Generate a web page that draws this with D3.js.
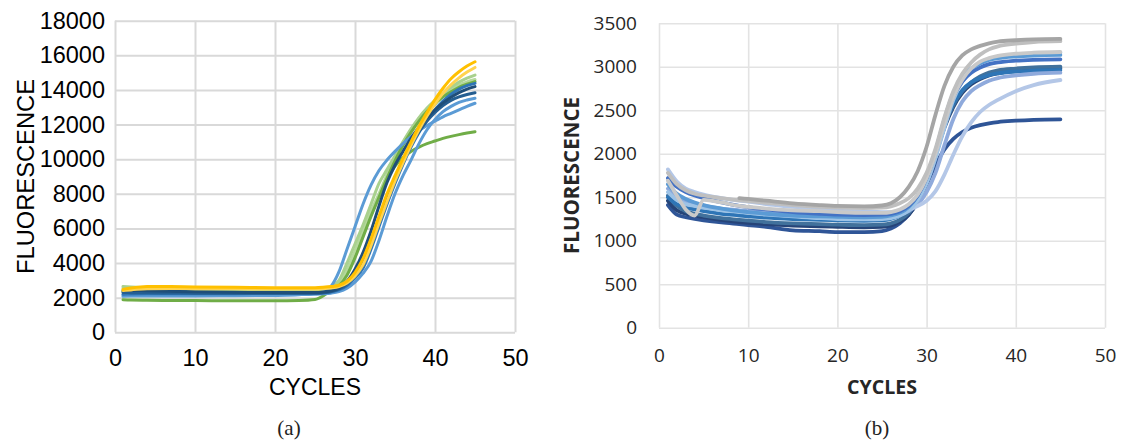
<!DOCTYPE html>
<html>
<head>
<meta charset="utf-8">
<script src="https://cdn.jsdelivr.net/npm/d3@7"></script>
<style>
  body { margin: 0; background: #fff; }
</style>
</head>
<body>
<svg id="chart" width="1128" height="441"></svg>
<script>
// ---- panel (a) data ----
const cyclesA = [1,2,4,7,10,15,20,23,25,26,27,28,29,30,31,32,33,34,35,36,37,38,39,40,41,42,43,44,45];
const a1 = [2480,2560,2650,2640,2620,2600,2580,2580,2580,2600,2640,2720,2950,3450,4250,5400,6700,8000,9050,10050,11000,11900,12700,13450,14100,14650,15050,15380,15630];
const a2 = [2420,2450,2520,2530,2520,2510,2500,2500,2500,2520,2560,2640,2850,3250,3900,5000,6300,7550,8750,9800,10800,11700,12500,13200,13800,14300,14700,15030,15300];
const a3 = [2650,2620,2560,2500,2470,2440,2420,2400,2400,2450,2600,3000,4000,5100,6200,7400,8600,9400,10200,11000,11750,12400,12950,13400,13800,14150,14450,14680,14860];
const a4 = [2550,2520,2460,2420,2400,2380,2360,2350,2350,2400,2520,2850,3600,4700,5900,7000,8000,9100,10100,10950,11700,12350,12900,13350,13750,14050,14300,14470,14600];
const a5 = [2350,2340,2320,2310,2300,2290,2290,2290,2300,2350,2450,2700,3300,4300,5500,6700,7800,8900,9900,10800,11550,12200,12750,13200,13600,13900,14150,14330,14480];
const a6 = [2200,2210,2220,2220,2220,2230,2240,2240,2250,2270,2330,2450,2700,3150,3700,4800,6100,7400,8600,9700,10700,11550,12250,12850,13350,13750,14050,14250,14380];
const a7 = [2420,2420,2400,2370,2340,2310,2300,2300,2300,2330,2400,2550,2950,3650,4600,5850,7300,8650,9650,10450,11200,11850,12400,12850,13250,13580,13850,14050,14190];
const a8 = [2300,2290,2280,2270,2260,2250,2250,2250,2250,2280,2350,2500,2800,3350,4000,5100,6400,7700,8900,9950,10850,11600,12200,12700,13100,13400,13600,13740,13840];
const a9 = [2150,2150,2150,2140,2140,2150,2170,2180,2200,2220,2260,2350,2550,2900,3400,4100,5300,6700,8000,9050,9950,10900,11700,12300,12750,13050,13280,13420,13520];
const a10 = [2080,2100,2100,2100,2100,2110,2130,2170,2250,2350,2650,3500,4800,6100,7400,8500,9350,9950,10450,10900,11300,11650,11950,12200,12450,12650,12850,13050,13230];
const a11 = [1880,1860,1850,1840,1830,1820,1820,1840,1900,2100,2450,2900,3600,4600,5700,6800,7900,8850,9600,10100,10450,10700,10900,11050,11200,11320,11420,11510,11590];
const seriesA = [a11, a4, a3, a5, a9, a10, a6, a8, a7, a2, a1];
const colorsA = ["#70ad47", "#b5d99c", "#a9d18e", "#70ad47", "#5b9bd5", "#5b9bd5", "#2e75b6", "#255e91", "#1f4e79", "#ffd34f", "#ffc000"];
const yTicksA = [0,2000,4000,6000,8000,10000,12000,14000,16000,18000];

// ---- panel (b) data ----
const cyclesB = [1,2,3,4,5,7,9,10,12,15,18,20,23,25,26,27,28,29,30,31,32,33,34,35,36,37,38,40,42,45];
const b1 = [null,null,null,null,null,null,1490,1480,1460,1430,1410,1400,1395,1405,1430,1500,1620,1800,2080,2450,2780,3000,3130,3200,3240,3270,3290,3305,3315,3320];
const b2 = [1780,1650,1580,1540,1520,1490,1465,1455,1435,1410,1390,1380,1375,1380,1395,1430,1490,1600,1780,2060,2420,2720,2920,3050,3140,3200,3235,3265,3285,3295];
const b3 = [1560,1470,1420,1400,1380,1350,1330,1320,1300,1280,1260,1250,1245,1250,1260,1290,1350,1470,1660,1950,2300,2620,2830,2960,3040,3090,3115,3140,3152,3162];
const b4 = [1650,1540,1480,1440,1410,1370,1340,1330,1310,1290,1280,1275,1270,1275,1290,1320,1390,1520,1730,2030,2400,2700,2880,2980,3040,3080,3100,3120,3130,3136];
const b5 = [1720,1620,1560,1520,1490,1440,1400,1385,1360,1330,1310,1300,1295,1300,1310,1340,1400,1520,1720,2020,2380,2660,2830,2930,2990,3030,3050,3070,3080,3086];
const b6 = [1520,1400,1340,1310,1290,1260,1240,1230,1215,1200,1190,1185,1180,1185,1200,1240,1320,1460,1680,1990,2320,2560,2720,2820,2890,2935,2960,2980,2993,3001];
const b7 = [1500,1420,1380,1360,1340,1310,1290,1280,1265,1250,1240,1235,1230,1235,1250,1290,1360,1490,1700,2000,2330,2580,2730,2820,2870,2905,2925,2945,2955,2963];
const b8 = [1600,1500,1450,1420,1400,1370,1350,1340,1320,1300,1285,1275,1270,1270,1280,1300,1340,1420,1560,1780,2100,2400,2600,2720,2790,2840,2870,2900,2920,2932];
const b9 = [1820,1680,1600,1560,1530,1490,1460,1450,1420,1390,1360,1345,1335,1330,1330,1340,1360,1400,1460,1570,1760,1990,2200,2360,2480,2560,2620,2720,2790,2848];
const b10 = [1410,1300,1270,1250,1235,1210,1190,1180,1160,1120,1110,1100,1100,1110,1140,1200,1300,1450,1650,1870,2050,2170,2250,2300,2330,2350,2365,2380,2390,2396];
const b11 = [1460,1350,1310,1290,1270,1240,1215,1205,1190,1175,1165,1160,1155,1160,1175,1220,1300,1450,1680,1980,2300,2540,2700,2800,2860,2900,2925,2955,2970,2985];
const b12 = [1690,1520,1360,1290,1470,1440,1400,1390,1370,1350,1340,1330,1320,1320,1330,1360,1420,1530,1720,2000,2350,2650,2850,2980,3060,3100,3125,3150,3162,3170];
const seriesB = [b10, b11, b6, b7, b8, b9, b3, b4, b5, b12, b2, b1];
const colorsB = ["#2f5597", "#264478", "#41719c", "#2e75b6", "#8faadc", "#b4c7e7", "#9dc3e6", "#5b9bd5", "#4472c4", "#c9c9c9", "#bfbfbf", "#a5a5a5"];
const yTicksB = [0,500,1000,1500,2000,2500,3000,3500];

const xTicks = [0,10,20,30,40,50];

const svg = d3.select("#chart");

function drawPanel(p) {
  var x = d3.scaleLinear().domain([0, 50]).range([p.left, p.right]);
  var y = d3.scaleLinear().domain([0, p.yMax]).range([p.bottom, p.top]);
  var w = p.right - p.left, h = p.bottom - p.top;

  // y gridlines + labels
  var gy = svg.append("g")
      .attr("transform", "translate(" + p.left + ",0)")
      .call(d3.axisLeft(y).tickValues(p.yTicks).tickSize(-w).tickPadding(p.yPad).tickFormat(d3.format("d")));
  // x gridlines + labels
  var gx = svg.append("g")
      .attr("transform", "translate(0," + p.bottom + ")")
      .call(d3.axisBottom(x).tickValues(xTicks).tickSize(-h).tickPadding(p.xPad));

  [gx, gy].forEach(function(g) {
    g.select(".domain").remove();
    g.selectAll("line").attr("stroke", p.grid).attr("stroke-width", p.gridWidth);
    g.selectAll("text")
      .attr("fill", p.textColor)
      .style("font-family", p.font)
      .style("font-size", p.tickSize + "px");
  });

  var line = d3.line()
      .defined(function(d) { return d[1] != null; })
      .x(function(d) { return x(d[0]); })
      .y(function(d) { return y(d[1]); })
      .curve(d3.curveMonotoneX);

  p.series.forEach(function(vals, i) {
    svg.append("path")
      .datum(p.cycles.map(function(c, j) { return [c, vals[j]]; }))
      .attr("fill", "none")
      .attr("stroke", p.colors[i])
      .attr("stroke-width", p.lineWidth)
      .attr("stroke-linejoin", "round")
      .attr("stroke-linecap", "round")
      .attr("d", line);
  });

  // axis titles
  var xt = svg.append("text")
      .attr("x", (p.left + p.right) / 2)
      .attr("y", p.xTitleY)
      .attr("text-anchor", "middle")
      .attr("fill", p.textColor)
      .style("font-family", p.font)
      .style("font-size", p.titleSize + "px")
      .style("font-weight", p.titleWeight)
      .text("CYCLES");
  var yt = svg.append("text")
      .attr("transform", "translate(" + p.yTitleX + "," + ((p.top + p.bottom) / 2) + ") rotate(-90)")
      .attr("text-anchor", "middle")
      .attr("fill", p.textColor)
      .style("font-family", p.font)
      .style("font-size", p.yTitleSize + "px")
      .style("font-weight", p.titleWeight)
      .text("FLUORESCENCE");
  if (p.xTitleLen) xt.attr("textLength", p.xTitleLen).attr("lengthAdjust", "spacingAndGlyphs");
  if (p.yTitleLen) yt.attr("textLength", p.yTitleLen).attr("lengthAdjust", "spacingAndGlyphs");

  // caption
  svg.append("text")
      .attr("x", p.capX)
      .attr("y", 435)
      .attr("text-anchor", "middle")
      .attr("fill", "#222")
      .style("font-family", "'Liberation Serif', 'DejaVu Serif', serif")
      .style("font-size", "21px")
      .text(p.caption);
}

drawPanel({
  left: 115, right: 515, top: 20.7, bottom: 332.3, yMax: 18000,
  yTicks: yTicksA, cycles: cyclesA, series: seriesA, colors: colorsA,
  grid: "#d9d9d9", gridWidth: 2, lineWidth: 3,
  font: "'Liberation Sans', Arial, sans-serif", textColor: "#000",
  tickSize: 23.5, yPad: 10, xPad: 17,
  titleSize: 23, yTitleSize: 23, titleWeight: "normal",
  xTitleY: 395, yTitleX: 34, yTitleLen: 195,
  caption: "(a)", capX: 289
});

drawPanel({
  left: 659, right: 1105, top: 23.3, bottom: 327.7, yMax: 3500,
  yTicks: yTicksB, cycles: cyclesB, series: seriesB, colors: colorsB,
  grid: "#e3e3e3", gridWidth: 1.6, lineWidth: 3.8,
  font: "'Open Sans', 'Noto Sans', sans-serif", textColor: "#262626",
  tickSize: 19, yPad: 22, xPad: 21,
  titleSize: 20, yTitleSize: 22, titleWeight: "bold",
  xTitleY: 394, yTitleX: 579, xTitleLen: 70, yTitleLen: 157,
  caption: "(b)", capX: 877
});
</script>
</body>
</html>
